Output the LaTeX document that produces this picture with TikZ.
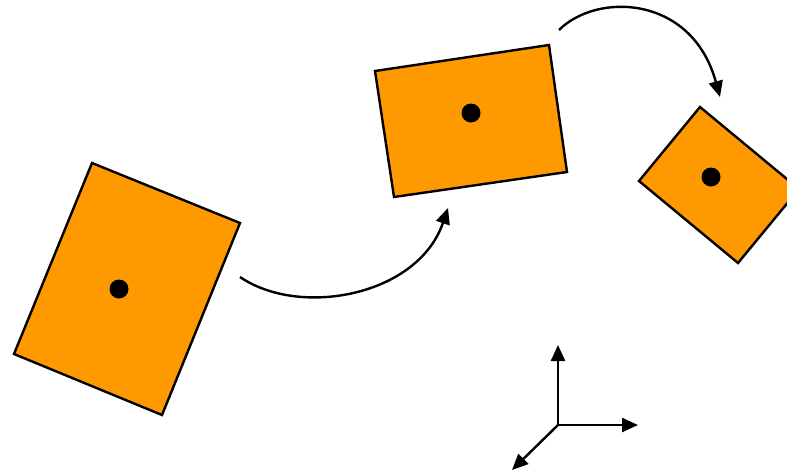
\documentclass[tikz,border=0pt]{standalone}
\usetikzlibrary{arrows.meta}
\definecolor{boxorange}{HTML}{FF9900}
\begin{document}
\begin{tikzpicture}[x=1pt,y=-1pt,
  plate/.style={draw=black,fill=boxorange,line width=2.4pt,line join=miter},
  pivot/.style={circle,fill=black,inner sep=0pt,minimum size=19pt},
  motion/.style={line width=2.4pt,-{Triangle[length=16pt,width=14pt]}},
  axis/.style={line width=2.4pt,-{Triangle[length=16pt,width=14pt]}}]
\useasboundingbox (0,0) rectangle (787,474);
\begin{scope}
\clip (0,0) rectangle (787,474);
% plate 1
\draw[plate] (92,163) -- (240,223) -- (162,415) -- (14,354) -- cycle;
\node[pivot] (p1) at (119,289) {};
% plate 2
\draw[plate] (375,71) -- (549,45) -- (567,172) -- (394,197) -- cycle;
\node[pivot] (p2) at (471,113) {};
% plate 3
\draw[plate] (700,107) -- (799,189) -- (738,263) -- (639,181) -- cycle;
\node[pivot] (p3) at (711,177) {};
\end{scope}
% motion arrows
\coordinate (m1s) at (240,277);
\coordinate (m1e) at (448,208);
\draw[motion] (m1s) .. controls (300,318) and (418,296) .. (m1e);
\coordinate (m2s) at (559,30);
\coordinate (m2e) at (720,97);
\draw[motion] (m2s) .. controls (597,-8) and (692,-5) .. (m2e);
% axes
\coordinate (o) at (558,425);
\coordinate (ay) at (558,345);
\coordinate (ax) at (638,425);
\coordinate (az) at (512,470);
\draw[axis] (o) -- (ay);
\draw[axis] (o) -- (ax);
\draw[axis] (o) -- (az);
\end{tikzpicture}
\end{document}
